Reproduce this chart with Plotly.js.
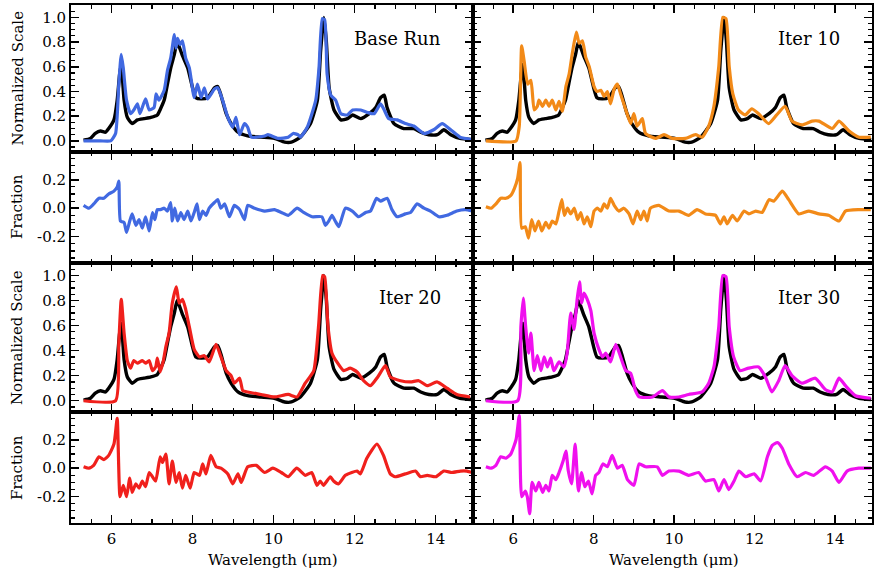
<!DOCTYPE html>
<html>
<head>
<meta charset="utf-8">
<script src="https://cdn.plot.ly/plotly-3.0.1.min.js"></script>
<style>html,body{margin:0;padding:0;background:#fff;}#chart{width:874px;height:570px;}</style>
</head>
<body>
<div id="chart"></div>
<script>
// ---- Reference (black) spectrum, shared by all four panels ----
const refWl = [5.31,5.48,5.60,5.73,5.85,5.93,6.06,6.14,6.20,6.24,6.31,6.39,6.51,6.64,6.80,6.97,7.13,7.21,7.30,7.38,7.46,7.55,7.62,7.75,7.88,8.00,8.08,8.21,8.37,8.54,8.62,8.70,8.83,8.95,9.12,9.36,9.69,10.02,10.27,10.44,10.66,10.91,11.08,11.16,11.24,11.30,11.37,11.49,11.66,11.82,11.95,12.15,12.36,12.52,12.64,12.73,12.80,12.97,13.21,13.46,13.63,13.83,14.04,14.20,14.37,14.60,14.90];
const refFlux = [0.005,0.02,0.06,0.08,0.07,0.10,0.17,0.33,0.54,0.62,0.33,0.19,0.14,0.17,0.18,0.19,0.21,0.26,0.33,0.46,0.59,0.70,0.80,0.69,0.59,0.43,0.35,0.34,0.35,0.43,0.44,0.37,0.22,0.14,0.07,0.04,0.03,0.02,-0.01,-0.01,0.03,0.14,0.33,0.73,1.0,0.81,0.43,0.25,0.17,0.18,0.21,0.18,0.22,0.27,0.35,0.37,0.27,0.14,0.10,0.10,0.07,0.05,0.05,0.09,0.05,0.02,0.01];

// ---- Base Run (blue) ----
const baseWl = [5.31,5.73,5.98,6.10,6.18,6.24,6.29,6.37,6.47,6.55,6.64,6.70,6.84,6.93,7.05,7.10,7.17,7.30,7.38,7.46,7.55,7.59,7.63,7.69,7.75,7.83,7.92,8.04,8.12,8.21,8.29,8.37,8.54,8.62,8.74,8.87,8.99,9.07,9.16,9.28,9.36,9.45,9.78,9.86,10.11,10.36,10.48,10.60,10.66,10.83,11.04,11.12,11.20,11.26,11.32,11.41,11.53,11.66,11.82,11.95,12.15,12.32,12.48,12.64,12.73,12.84,13.05,13.25,13.46,13.71,13.95,14.16,14.37,14.60,14.90];
const baseFlux = [0.0,0.0,0.0,0.06,0.46,0.70,0.59,0.33,0.22,0.25,0.30,0.22,0.34,0.25,0.27,0.38,0.33,0.41,0.57,0.67,0.86,0.75,0.83,0.78,0.81,0.67,0.59,0.35,0.46,0.35,0.43,0.34,0.42,0.43,0.33,0.19,0.11,0.19,0.05,0.14,0.11,0.03,0.04,0.05,0.02,0.03,0.06,0.05,0.03,0.11,0.33,0.59,0.99,0.98,0.54,0.37,0.33,0.22,0.21,0.25,0.25,0.23,0.22,0.30,0.25,0.18,0.17,0.14,0.12,0.06,0.09,0.14,0.09,0.03,0.01];
const baseFracWl = [5.31,5.44,5.56,5.69,5.81,5.93,6.06,6.14,6.18,6.22,6.31,6.37,6.45,6.51,6.60,6.68,6.76,6.84,6.93,7.01,7.07,7.13,7.21,7.30,7.38,7.46,7.50,7.56,7.63,7.71,7.79,7.88,7.96,8.04,8.11,8.17,8.25,8.33,8.41,8.54,8.62,8.70,8.79,8.91,9.03,9.16,9.28,9.36,9.53,9.78,10.02,10.19,10.36,10.58,10.74,10.95,11.19,11.28,11.36,11.44,11.52,11.61,11.77,11.94,12.10,12.27,12.39,12.54,12.64,12.80,12.92,13.05,13.25,13.38,13.54,13.71,13.87,14.08,14.28,14.52,14.73,14.90];
const baseFrac = [0.02,0.0,0.03,0.07,0.07,0.10,0.12,0.15,0.19,-0.09,-0.10,-0.17,-0.09,-0.04,-0.12,-0.08,-0.14,-0.06,-0.16,-0.03,-0.08,-0.01,-0.01,0.0,-0.02,0.04,-0.09,0.0,-0.09,-0.03,-0.08,-0.02,-0.09,-0.03,0.03,-0.08,-0.02,-0.05,0.0,0.04,0.06,0.0,0.03,-0.06,0.02,-0.01,-0.08,0.02,0.0,-0.02,-0.01,-0.03,-0.05,0.0,-0.03,-0.06,-0.06,-0.12,-0.09,-0.05,-0.09,-0.13,0.0,-0.02,-0.06,-0.03,-0.02,0.07,0.05,0.07,-0.01,-0.06,-0.04,-0.03,0.03,0.0,-0.02,-0.06,-0.05,-0.02,-0.01,-0.02];

// ---- Iter 10 (orange) ----
const it10Wl = [5.32,6.07,6.15,6.21,6.27,6.36,6.44,6.52,6.60,6.64,6.73,6.81,6.89,6.97,7.06,7.14,7.22,7.31,7.39,7.47,7.57,7.64,7.72,7.80,7.89,8.01,8.09,8.18,8.26,8.34,8.42,8.51,8.59,8.67,8.80,8.92,9.00,9.08,9.21,9.29,9.54,9.75,9.95,10.28,10.53,10.70,10.86,10.99,11.11,11.21,11.29,11.37,11.46,11.60,11.77,11.93,12.10,12.35,12.55,12.76,12.93,13.18,13.43,13.60,13.93,14.10,14.35,14.60,14.89];
const it10Flux = [0.0,0.0,0.12,0.77,0.65,0.46,0.49,0.25,0.28,0.33,0.28,0.33,0.28,0.33,0.25,0.32,0.24,0.44,0.54,0.71,0.88,0.79,0.81,0.68,0.60,0.44,0.40,0.41,0.36,0.40,0.30,0.42,0.46,0.38,0.25,0.14,0.22,0.12,0.18,0.06,0.02,0.05,0.02,0.02,0.05,0.03,0.12,0.28,0.60,1.0,0.99,0.60,0.38,0.25,0.21,0.26,0.22,0.14,0.21,0.28,0.16,0.13,0.16,0.16,0.10,0.16,0.08,0.03,0.03];
const it10FracWl = [5.32,5.45,5.57,5.69,5.82,5.94,6.03,6.11,6.17,6.21,6.30,6.38,6.46,6.54,6.63,6.71,6.81,6.89,6.97,7.06,7.14,7.21,7.27,7.35,7.43,7.52,7.60,7.68,7.76,7.84,7.93,8.01,8.09,8.18,8.26,8.34,8.42,8.51,8.63,8.75,8.88,8.98,9.08,9.17,9.25,9.33,9.41,9.62,9.87,10.12,10.36,10.57,10.78,11.03,11.15,11.24,11.32,11.45,11.57,11.74,11.86,12.03,12.19,12.36,12.48,12.69,12.85,13.10,13.35,13.60,13.84,14.10,14.26,14.60,14.89];
const it10Frac = [0.01,0.0,0.03,0.07,0.07,0.09,0.14,0.21,0.32,-0.14,-0.13,-0.21,-0.08,-0.16,-0.09,-0.16,-0.10,-0.14,-0.09,-0.11,-0.02,0.06,-0.05,0.0,-0.04,0.0,-0.08,-0.03,-0.11,-0.06,-0.13,-0.02,0.0,-0.02,0.03,0.0,0.07,0.02,-0.02,0.0,-0.04,-0.11,-0.02,-0.08,-0.02,-0.09,0.0,0.02,-0.02,-0.02,-0.05,-0.01,-0.04,-0.05,-0.11,-0.06,-0.11,-0.05,-0.09,-0.02,-0.04,-0.02,-0.03,0.06,0.05,0.12,0.06,-0.04,-0.02,-0.04,-0.05,-0.09,-0.02,-0.01,-0.01];

// ---- Iter 20 (red) ----
const it20Wl = [5.31,6.10,6.18,6.24,6.31,6.39,6.47,6.55,6.64,6.76,6.84,6.93,7.01,7.09,7.13,7.20,7.28,7.34,7.42,7.50,7.60,7.67,7.75,7.83,7.92,8.04,8.17,8.29,8.41,8.58,8.70,8.83,8.95,9.03,9.16,9.24,9.36,9.69,10.02,10.36,10.58,10.78,10.99,11.11,11.21,11.26,11.34,11.44,11.56,11.73,11.89,12.06,12.22,12.39,12.57,12.76,12.88,13.13,13.38,13.58,13.79,14.03,14.28,14.52,14.85];
const it20Flux = [0.0,0.0,0.46,0.81,0.54,0.32,0.26,0.32,0.30,0.32,0.30,0.32,0.24,0.27,0.34,0.23,0.32,0.43,0.54,0.78,0.91,0.78,0.81,0.73,0.59,0.41,0.35,0.36,0.31,0.45,0.35,0.24,0.20,0.14,0.18,0.08,0.07,0.05,0.03,0.05,0.03,0.14,0.24,0.60,1.0,0.99,0.60,0.38,0.31,0.24,0.26,0.23,0.16,0.12,0.19,0.28,0.19,0.16,0.15,0.16,0.12,0.15,0.10,0.05,0.03];
const it20FracWl = [5.31,5.44,5.56,5.69,5.81,5.93,6.06,6.14,6.21,6.29,6.37,6.45,6.51,6.60,6.68,6.76,6.84,6.93,7.01,7.09,7.20,7.26,7.34,7.42,7.50,7.59,7.67,7.75,7.83,7.94,8.04,8.17,8.25,8.33,8.45,8.58,8.70,8.87,8.99,9.12,9.20,9.36,9.57,9.78,9.98,10.19,10.36,10.57,10.78,10.94,11.07,11.15,11.23,11.40,11.48,11.60,11.77,11.93,12.06,12.14,12.30,12.55,12.71,12.88,13.00,13.25,13.50,13.62,13.79,14.00,14.20,14.40,14.61,14.77,14.90];
const it20Frac = [0.01,0.0,0.02,0.08,0.06,0.09,0.17,0.35,-0.20,-0.12,-0.20,-0.07,-0.17,-0.11,-0.14,-0.09,-0.13,-0.03,-0.06,-0.09,0.08,0.04,0.10,-0.11,0.05,-0.10,-0.03,-0.14,-0.05,-0.14,-0.03,-0.05,0.03,-0.04,0.09,0.01,0.0,-0.04,-0.11,-0.04,-0.10,0.01,0.02,-0.03,0.0,-0.03,-0.06,0.0,-0.05,-0.03,-0.12,-0.09,-0.12,-0.06,-0.09,-0.11,-0.05,-0.03,-0.02,-0.04,0.07,0.17,0.09,-0.04,-0.06,-0.04,-0.02,-0.06,-0.05,-0.06,-0.02,-0.03,-0.02,-0.02,-0.03];

// ---- Iter 30 (magenta) ----
const it30Wl = [5.32,6.11,6.19,6.25,6.31,6.38,6.44,6.52,6.60,6.69,6.77,6.85,6.93,7.01,7.14,7.26,7.34,7.43,7.51,7.59,7.65,7.70,7.76,7.84,7.93,8.01,8.13,8.22,8.30,8.42,8.55,8.67,8.80,8.92,9.04,9.13,9.46,9.71,9.87,10.12,10.36,10.70,10.86,10.99,11.11,11.21,11.29,11.37,11.48,11.64,11.85,12.10,12.27,12.43,12.60,12.76,12.93,13.18,13.51,13.76,13.93,14.10,14.26,14.51,14.89];
const it30Flux = [0.0,0.0,0.59,0.82,0.59,0.38,0.54,0.24,0.36,0.24,0.35,0.27,0.34,0.24,0.31,0.27,0.38,0.70,0.57,0.81,0.95,0.78,0.86,0.81,0.72,0.54,0.41,0.35,0.38,0.31,0.45,0.35,0.24,0.22,0.08,0.03,0.03,0.08,0.03,0.03,0.05,0.07,0.14,0.27,0.59,1.0,0.99,0.59,0.35,0.24,0.26,0.27,0.19,0.07,0.16,0.28,0.20,0.14,0.18,0.09,0.07,0.18,0.12,0.04,0.02];
const it30FracWl = [5.32,5.45,5.57,5.69,5.82,5.94,6.07,6.15,6.21,6.30,6.35,6.41,6.47,6.56,6.64,6.73,6.81,6.89,6.97,7.06,7.14,7.24,7.31,7.37,7.45,7.54,7.62,7.70,7.78,7.87,7.96,8.05,8.13,8.23,8.34,8.46,8.59,8.71,8.84,9.00,9.13,9.29,9.58,9.71,9.87,10.12,10.36,10.61,10.78,10.99,11.11,11.24,11.36,11.49,11.61,11.78,11.99,12.15,12.32,12.44,12.57,12.69,12.85,13.06,13.27,13.47,13.76,13.93,14.10,14.30,14.59,14.89];
const it30Frac = [0.01,0.0,0.02,0.08,0.07,0.10,0.20,0.37,-0.20,-0.16,-0.20,-0.32,-0.10,-0.16,-0.10,-0.17,-0.12,-0.16,-0.05,-0.08,-0.03,0.05,0.12,-0.02,-0.11,0.17,-0.16,-0.03,-0.13,-0.09,-0.18,-0.05,-0.03,0.03,0.01,0.09,0.0,0.02,-0.08,-0.12,0.03,0.01,0.01,-0.05,-0.02,-0.02,-0.05,-0.03,-0.09,-0.08,-0.16,-0.08,-0.15,-0.09,-0.02,-0.06,-0.04,-0.09,0.08,0.16,0.18,0.14,0.03,-0.06,-0.03,-0.05,0.01,-0.02,-0.10,-0.02,0.0,0.0];

const panelNames = ['Base Run','Iter 10','Iter 20','Iter 30'];
const panelColors = ['#4169e1','#f28a18','#f0201c','#f010ee'];
const yTickVals = [0.0,0.2,0.4,0.6,0.8,1.0];
const fracTickVals = [-0.2,0.0,0.2];
const xTickVals = [6,8,10,12,14];

const models = [
  {wl: baseWl, flux: baseFlux, fwl: baseFracWl, frac: baseFrac},
  {wl: it10Wl, flux: it10Flux, fwl: it10FracWl, frac: it10Frac},
  {wl: it20Wl, flux: it20Flux, fwl: it20FracWl, frac: it20Frac},
  {wl: it30Wl, flux: it30Flux, fwl: it30FracWl, frac: it30Frac}
];

// ---- geometry ----
const W = 874, H = 570;
const ML = 71, MR = 2, MT = 5, MB = 47;
const PW = W - ML - MR, PH = H - MT - MB;
const px = v => (v - ML) / PW;
const py = v => (H - MB - v) / PH;
const colDom = [[0, px(473)], [px(473), 1]];
const rowSpec = [[py(152), 1], [py(412), py(263)]];
const rowFrac = [[py(263), py(152)], [0, py(412)]];

const FONT = 'DejaVu Serif';
const traces = [];
const layout = {
  width: W, height: H,
  margin: {l: ML, r: MR, t: MT, b: MB, pad: 0},
  paper_bgcolor: '#fff', plot_bgcolor: '#fff',
  showlegend: false,
  font: {family: FONT, size: 15, color: '#000'},
  annotations: []
};

function axisBase() {
  return {
    showline: true, linecolor: '#000', linewidth: 2, mirror: 'allticks',
    ticks: 'inside', ticklen: 8, tickwidth: 1.5, tickcolor: '#000',
    showgrid: false, zeroline: false, fixedrange: true,
    tickfont: {family: FONT, size: 15, color: '#000'}
  };
}

const LINE_SHAPE = {shape: 'spline', smoothing: 0.5};

let idx = 0;
for (let p = 0; p < 4; p++) {
  const col = p % 2, row = Math.floor(p / 2);
  const m = models[p];
  for (let k = 0; k < 2; k++) {
    idx++;
    const xn = 'x' + (idx === 1 ? '' : idx), yn = 'y' + (idx === 1 ? '' : idx);
    const xa = Object.assign(axisBase(), {
      domain: colDom[col], anchor: yn, range: [5, 14.92],
      tickvals: xTickVals, ticktext: xTickVals.map(String),
      showticklabels: (k === 1 && row === 1), ticklabelstandoff: 1,
      minor: {dtick: 0.5, tick0: 0, ticks: 'inside', ticklen: 4, tickwidth: 1.2, tickcolor: '#000'}
    });
    const ya = Object.assign(axisBase(), {
      domain: k === 0 ? rowSpec[row] : rowFrac[row], anchor: xn,
      showticklabels: col === 0,
      minor: {dtick: 0.05, tick0: 0, ticks: 'inside', ticklen: 4, tickwidth: 1.2, tickcolor: '#000'}
    });
    if (k === 0) {
      ya.range = [-0.09, 1.1];
      ya.tickvals = yTickVals; ya.ticktext = yTickVals.map(v => v.toFixed(1));
    } else {
      ya.range = [-0.385, 0.395];
      ya.tickvals = fracTickVals; ya.ticktext = fracTickVals.map(v => v.toFixed(1));
    }
    layout['xaxis' + (idx === 1 ? '' : idx)] = xa;
    layout['yaxis' + (idx === 1 ? '' : idx)] = ya;
    if (k === 0) {
      traces.push({x: refWl, y: refFlux, xaxis: xn, yaxis: yn, mode: 'lines',
        line: Object.assign({color: '#000', width: 3.4}, LINE_SHAPE), hoverinfo: 'skip'});
      traces.push({x: m.wl, y: m.flux, xaxis: xn, yaxis: yn, mode: 'lines',
        line: Object.assign({color: panelColors[p], width: 3.2}, LINE_SHAPE), hoverinfo: 'skip'});
      layout.annotations.push({text: panelNames[p], xref: xn + ' domain', yref: yn + ' domain',
        x: 0.925, y: 0.77, xanchor: 'right', yanchor: 'middle', showarrow: false,
        font: {family: FONT, size: 18, color: '#000'}});
    } else {
      traces.push({x: m.fwl, y: m.frac, xaxis: xn, yaxis: yn, mode: 'lines',
        line: Object.assign({color: panelColors[p], width: 3.2}, LINE_SHAPE), hoverinfo: 'skip'});
    }
  }
}

// axis titles
[[78.5, 'Normalized Scale'], [207, 'Fraction'], [338, 'Normalized Scale'], [468, 'Fraction']].forEach(([yc, t]) => {
  layout.annotations.push({text: t, xref: 'paper', yref: 'paper', x: px(17), y: py(yc),
    xanchor: 'center', yanchor: 'middle', textangle: -90, showarrow: false,
    font: {family: FONT, size: 15, color: '#000'}});
});
[272, 673].forEach(xc => {
  layout.annotations.push({text: 'Wavelength (μm)', xref: 'paper', yref: 'paper', x: px(xc), y: py(560),
    xanchor: 'center', yanchor: 'middle', showarrow: false,
    font: {family: FONT, size: 15, color: '#000'}});
});

Plotly.newPlot('chart', traces, layout, {displayModeBar: false, staticPlot: true});
</script>
</body>
</html>
